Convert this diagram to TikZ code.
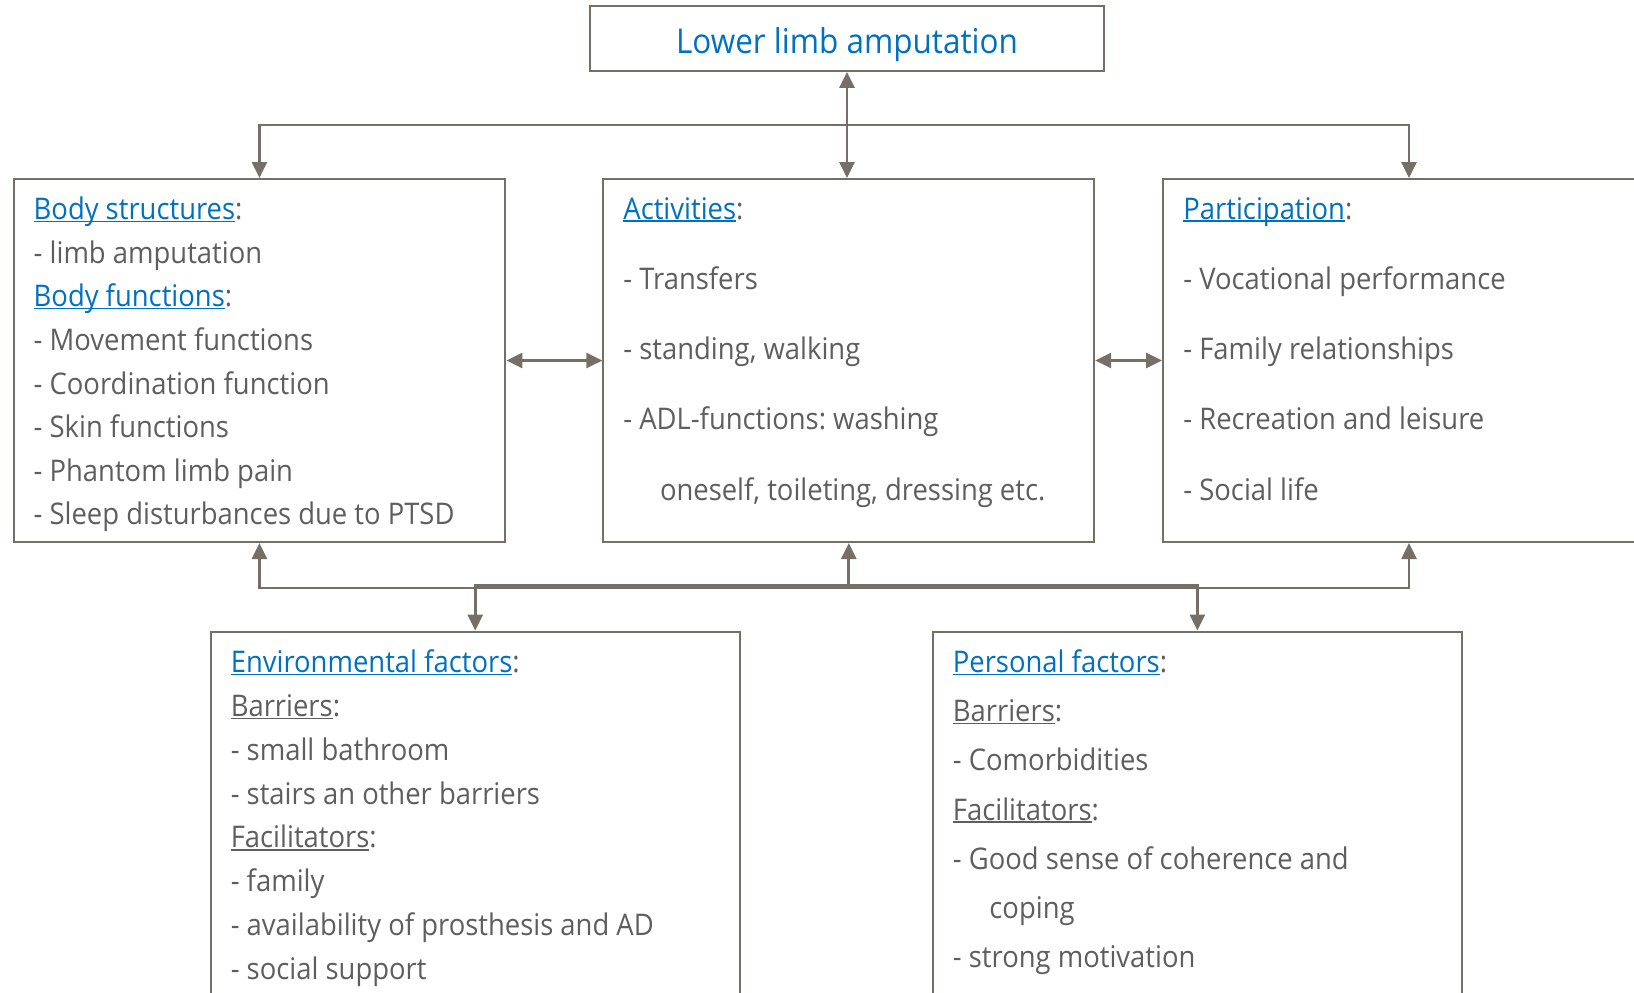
\documentclass[tikz,border=0pt]{standalone}
\usepackage{fontspec}
\setmainfont{Open Sans}[FakeStretch=0.92]
\usetikzlibrary{arrows.meta,fit}

\definecolor{linec}{RGB}{118,111,104}
\definecolor{txtc}{RGB}{94,94,94}
\definecolor{headc}{RGB}{0,112,192}

% underline drawn at a fixed depth, so descenders cross it
\newcommand\ulin[1]{\setbox0=\hbox{#1}\rlap{\rule[-1.3pt]{\wd0}{0.75pt}}\box0}
\newcommand\hd[1]{{\color{headc}\ulin{#1}}:}
\newcommand\sh[1]{\ulin{#1}:}

\frenchspacing
\begin{document}
\begin{tikzpicture}[x=0.5pt,y=-0.5pt,
  box/.style={draw=linec,line width=1pt,inner sep=0pt},
  txt/.style={anchor=base west,inner sep=0pt,text=txtc,font=\fontsize{14.9}{18}\selectfont},
  conn/.style={draw=linec,line width=1.35pt},
  arr/.style={conn,-{Triangle[length=8pt,width=7.5pt]}},
  dbl/.style={conn,{Triangle[length=8pt,width=7.5pt]}-{Triangle[length=8pt,width=7.5pt]}}]

\useasboundingbox (0,0) rectangle (1634,992);
\clip (0,0) rectangle (1634,992);

% boxes
\node[box,fit={(590,6.3)(1104,70.9)}] (top) {};
\node[box,fit={(13.5,179)(505.4,542)}] (lb) {};
\node[box,fit={(603.4,179)(1094.2,542)}] (cb) {};
\node[box,fit={(1163,179)(1655,542)}] (rb) {};
\node[box,fit={(210.5,631.5)(740,1012)}] (eb) {};
\node[box,fit={(932.7,631.5)(1462,1012)}] (pb) {};

% title
\node[anchor=base,inner sep=0pt,text=headc,font=\fontsize{17.1}{20}\selectfont] (title) at (847,53.4) {Lower limb amputation};

% body structures and functions
\foreach \t [count=\i] in {{\hd{Body structures}},{- limb amputation},{\hd{Body functions}},
  {- Movement functions},{- Coordination function},{- Skin functions},
  {- Phantom limb pain},{- Sleep disturbances due to PTSD}}
  \node[txt] (lbt\i) at (33.3,{219.4+43.65*(\i-1)}) {\t};

% activities
\foreach \t [count=\i] in {{\hd{Activities}},{- Transfers},{- standing, walking},{- ADL-functions: washing}}
  \node[txt] (cbt\i) at (623,{219.2+70.2*(\i-1)}) {\t};
\node[txt] (cbt5) at (659.6,500) {oneself, toileting, dressing etc.};

% participation
\foreach \t [count=\i] in {{\hd{Participation}},{- Vocational performance},{- Family relationships},
  {- Recreation and leisure},{- Social life}}
  \node[txt] (rbt\i) at (1183,{219.2+70.2*(\i-1)}) {\t};

% environmental factors
\foreach \t [count=\i] in {{\hd{Environmental factors}},{\sh{Barriers}},{- small bathroom},
  {- stairs an other barriers},{\sh{Facilitators}},{- family},
  {- availability of prosthesis and AD},{- social support}}
  \node[txt] (ebt\i) at (230.4,{672.7+43.8*(\i-1)}) {\t};

% personal factors
\foreach \t [count=\i] in {{\hd{Personal factors}},{\sh{Barriers}},{- Comorbidities},
  {\sh{Facilitators}},{- Good sense of coherence and}}
  \node[txt] (pbt\i) at (952.5,{672.7+49.1*(\i-1)}) {\t};
\node[txt] (pbt6) at (989,918.2) {coping};
\node[txt] (pbt7) at (952.5,967.3) {- strong motivation};

% connectors
\coordinate (jt) at (847,125);
\coordinate (ju) at (848,588);
\coordinate (jd) at (848,585.5);

\draw[dbl] (top.south) -- (top.south |- cb.north);
\draw[arr] (jt) -| (lb.north);
\draw[arr] (jt) -| (rb.north);

\draw[dbl] (lb.east) -- (cb.west);
\draw[dbl] (cb.east) -- (rb.west);

\draw[arr] (ju) -| (lb.south);
\draw[arr] (ju) -| (rb.south);
\draw[arr] (cb.south |- ju) -- (cb.south);
\draw[arr] (jd) -| (eb.north);
\draw[arr] (jd) -| (pb.north);
\end{tikzpicture}
\end{document}
